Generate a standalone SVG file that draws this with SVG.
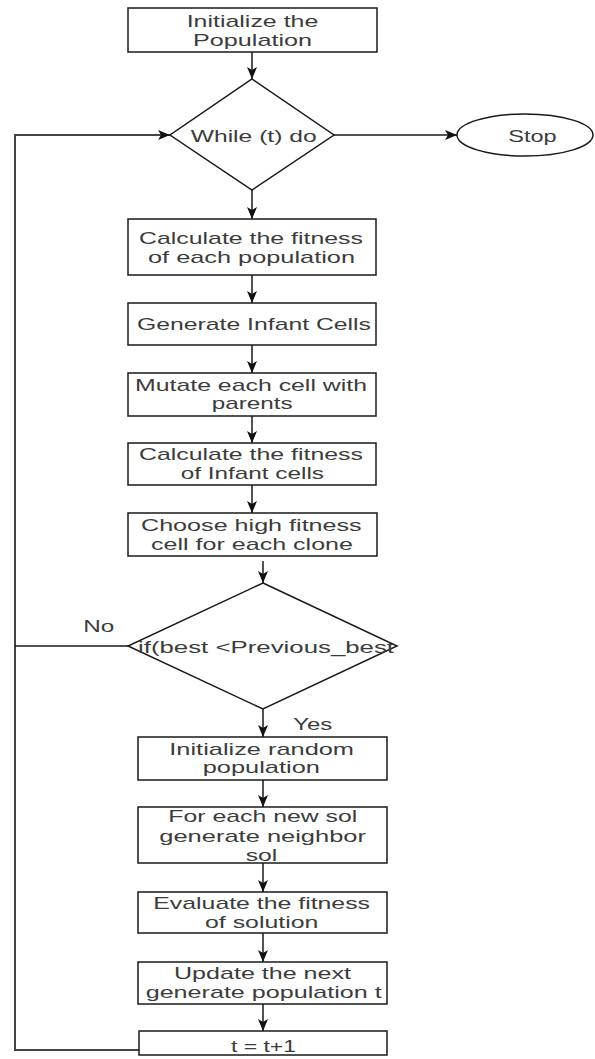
<svg xmlns="http://www.w3.org/2000/svg" width="595" height="1059" viewBox="0 0 595 1059">
<style>
.n{fill:#fff;stroke:#1a1a1a;stroke-width:1.5}
.c{fill:none;stroke:#1a1a1a;stroke-width:1.5}
.loop{fill:none;stroke:#444;stroke-width:2}
text{font-family:"Liberation Sans",Arial,sans-serif;font-size:17px;fill:#3c3c3c}
</style>
<defs>
<marker id="ah" markerUnits="userSpaceOnUse" markerWidth="13" markerHeight="11" refX="12" refY="5" orient="auto">
<path d="M0,0 L12,5 L0,10 L3,5 Z" fill="#111"/>
</marker>
</defs>
<rect width="595" height="1059" fill="#fff"/>
<g id="connectors">
<line class="c" x1="252" y1="52" x2="252" y2="79" marker-end="url(#ah)"/>
<line class="c" x1="252" y1="190" x2="252" y2="219" marker-end="url(#ah)"/>
<line class="c" x1="252" y1="275" x2="252" y2="303" marker-end="url(#ah)"/>
<line class="c" x1="252" y1="345" x2="252" y2="373" marker-end="url(#ah)"/>
<line class="c" x1="252" y1="416" x2="252" y2="443" marker-end="url(#ah)"/>
<line class="c" x1="252" y1="485" x2="252" y2="513" marker-end="url(#ah)"/>
<line class="c" x1="263" y1="561" x2="263" y2="583" marker-end="url(#ah)"/>
<line class="c" x1="263" y1="709" x2="263" y2="737" marker-end="url(#ah)"/>
<line class="c" x1="263" y1="780" x2="263" y2="807" marker-end="url(#ah)"/>
<line class="c" x1="263" y1="863" x2="263" y2="892" marker-end="url(#ah)"/>
<line class="c" x1="263" y1="933" x2="263" y2="962" marker-end="url(#ah)"/>
<line class="c" x1="263" y1="1004" x2="263" y2="1031" marker-end="url(#ah)"/>
<line class="c" x1="334" y1="135" x2="457" y2="135" marker-end="url(#ah)"/>
<path class="loop" d="M139,1050 H15 V135 H170" marker-end="url(#ah)"/>
<path class="c" d="M128,646 H15"/>
<text x="83.3" y="631.7" textLength="31" lengthAdjust="spacingAndGlyphs">No</text>
<text x="293.3" y="730" textLength="39" lengthAdjust="spacingAndGlyphs">Yes</text>
</g>
<g id="init">
<rect class="n" x="128" y="8" width="249" height="44"/>
<text x="186.7" y="26.7" textLength="131.6" lengthAdjust="spacingAndGlyphs">Initialize the</text>
<text x="193" y="45.5" textLength="119" lengthAdjust="spacingAndGlyphs">Population</text>
</g>
<g id="while">
<polygon class="n" points="252,79 334,135 252,190 170,135"/>
<text x="190.7" y="141.7" textLength="126" lengthAdjust="spacingAndGlyphs">While (t) do</text>
</g>
<g id="stop">
<ellipse class="n" cx="525" cy="135" rx="68" ry="21"/>
<text x="508.3" y="141.7" textLength="48.4" lengthAdjust="spacingAndGlyphs">Stop</text>
</g>
<g id="fitness1">
<rect class="n" x="128" y="219" width="248" height="56"/>
<text x="139" y="244" textLength="224" lengthAdjust="spacingAndGlyphs">Calculate the fitness</text>
<text x="148" y="263" textLength="207" lengthAdjust="spacingAndGlyphs">of each population</text>
</g>
<g id="infant">
<rect class="n" x="128" y="303" width="248" height="42"/>
<text x="137" y="330" textLength="234" lengthAdjust="spacingAndGlyphs">Generate Infant Cells</text>
</g>
<g id="mutate">
<rect class="n" x="128" y="373" width="248" height="43"/>
<text x="135" y="391" textLength="232" lengthAdjust="spacingAndGlyphs">Mutate each cell with</text>
<text x="211.7" y="408.5" textLength="81" lengthAdjust="spacingAndGlyphs">parents</text>
</g>
<g id="fitness2">
<rect class="n" x="128" y="443" width="248" height="42"/>
<text x="139" y="460" textLength="224" lengthAdjust="spacingAndGlyphs">Calculate the fitness</text>
<text x="180.7" y="479" textLength="143.3" lengthAdjust="spacingAndGlyphs">of Infant cells</text>
</g>
<g id="choose">
<rect class="n" x="128" y="513" width="249" height="43"/>
<text x="141" y="530.7" textLength="220.7" lengthAdjust="spacingAndGlyphs">Choose high fitness</text>
<text x="151" y="550" textLength="202" lengthAdjust="spacingAndGlyphs">cell for each clone</text>
</g>
<g id="ifbest">
<polygon class="n" points="263,583 397,646 263,709 128,646"/>
<text x="138" y="652.7" textLength="256" lengthAdjust="spacingAndGlyphs">if(best &lt;Previous_best</text>
</g>
<g id="random">
<rect class="n" x="138" y="737" width="249" height="43"/>
<text x="169.3" y="755" textLength="184.7" lengthAdjust="spacingAndGlyphs">Initialize random</text>
<text x="202.7" y="773.3" textLength="117.3" lengthAdjust="spacingAndGlyphs">population</text>
</g>
<g id="neighbor">
<rect class="n" x="138" y="807" width="249" height="56"/>
<text x="168.3" y="822.3" textLength="189" lengthAdjust="spacingAndGlyphs">For each new sol</text>
<text x="159.3" y="841.7" textLength="206.7" lengthAdjust="spacingAndGlyphs">generate neighbor</text>
<text x="245.7" y="861" textLength="31.6" lengthAdjust="spacingAndGlyphs">sol</text>
</g>
<g id="evaluate">
<rect class="n" x="138" y="892" width="249" height="41"/>
<text x="153.3" y="909" textLength="216.7" lengthAdjust="spacingAndGlyphs">Evaluate the fitness</text>
<text x="205" y="928.3" textLength="113.3" lengthAdjust="spacingAndGlyphs">of solution</text>
</g>
<g id="update">
<rect class="n" x="138" y="962" width="249" height="42"/>
<text x="174" y="979.3" textLength="177" lengthAdjust="spacingAndGlyphs">Update the next</text>
<text x="145.7" y="998.3" textLength="236" lengthAdjust="spacingAndGlyphs">generate population t</text>
</g>
<g id="increment">
<rect class="n" x="139" y="1031" width="248" height="24"/>
<text x="231" y="1051.7" textLength="65" lengthAdjust="spacingAndGlyphs">t = t+1</text>
</g>
</svg>
